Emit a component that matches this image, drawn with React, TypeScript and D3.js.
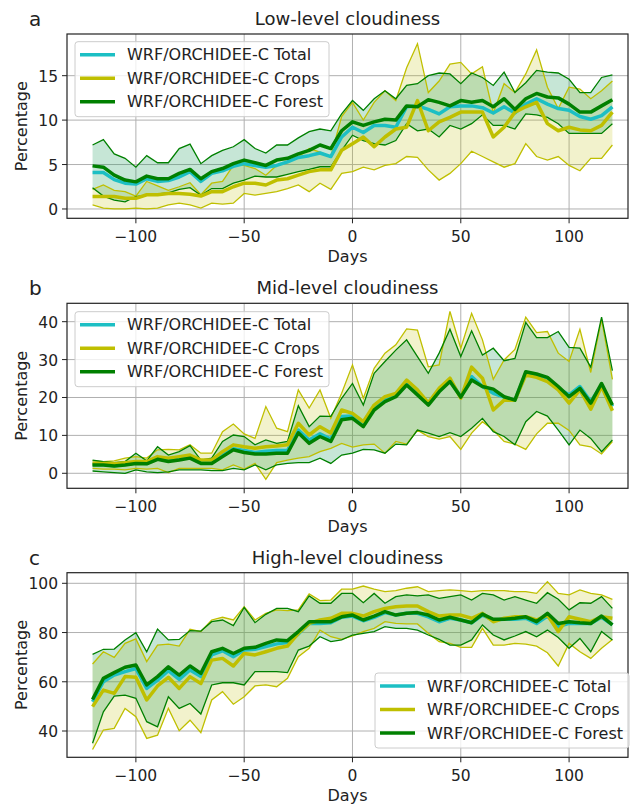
import React from 'react'
import * as d3 from 'd3'

// days relative to deforestation
const days = [
  -120, -115, -110, -105, -100, -95, -90, -85, -80, -75, -70, -65, -60, -55, -50, -45, -40, -35, -30, -25, -20, -15, -10, -5,
  0, 5, 10, 15, 20, 25, 30, 35, 40, 45, 50, 55, 60, 65, 70, 75, 80, 85, 90, 95, 100, 105, 110, 115, 120
]

// ---- low-level cloudiness ----
const lowTotal = [4.1, 4.1, 3.3, 2.9, 2.8, 3.4, 3.1, 3.2, 3.6, 4.2, 3.1, 4.0, 4.3, 4.8, 5.1, 4.9, 4.7, 4.9, 5.3, 5.8, 6.0, 6.3, 5.9, 8.1,
  9.2, 8.6, 9.4, 9.4, 9.2, 11.5, 11.6, 11.2, 10.7, 11.5, 11.6, 11.6, 11.4, 10.8, 11.5, 10.8, 11.8, 12.4, 11.8, 11.3, 11.1, 10.4, 10.1, 10.5, 11.5]
const lowCropsMean = [1.4, 1.4, 1.4, 1.2, 1.2, 1.6, 1.6, 1.75, 1.75, 1.65, 1.45, 1.95, 1.95, 2.5, 2.9, 2.9, 2.7, 3.25, 3.4, 3.8, 4.2, 4.4, 4.4, 6.6,
  7.35, 8.1, 7.0, 8.1, 9.0, 9.2, 12.2, 8.8, 9.8, 10.3, 10.9, 10.9, 10.9, 8.1, 9.2, 10.9, 11.5, 12.0, 9.6, 8.8, 9.2, 8.9, 8.8, 9.4, 10.9]
const lowCropsLow = [0.45, 0.1, 0, 0, 0.1, 0, 0.1, 0.45, 0.65, 0.45, 0.1, 0.65, 0.55, 0.65, 1.75, 1.55, 1.75, 1.95, 2.3, 2.7, 1.95, 2.9, 2.2, 4.0,
  4.2, 4.7, 4.4, 4.9, 5.1, 5.9, 5.8, 4.4, 3.25, 4.0, 5.1, 6.5, 5.9, 5.3, 4.7, 5.1, 7.35, 5.9, 5.5, 5.9, 4.9, 4.3, 5.7, 5.7, 7.2]
const lowCropsHigh = [2.2, 2.7, 2.1, 1.95, 1.45, 3.1, 2.6, 2.1, 2.5, 2.95, 1.6, 2.9, 3.1, 4.9, 4.9, 4.55, 3.8, 4.9, 5.2, 5.85, 6.8, 6.4, 5.9, 10.4,
  12.0, 10.0, 12.0, 13.3, 12.2, 15.9, 18.6, 13.1, 14.4, 16.3, 16.5, 15.2, 16.0, 10.8, 14.1, 13.1, 15.2, 17.9, 13.7, 11.3, 13.7, 13.5, 12.4, 13.3, 14.4]
const lowForestMean = [4.85, 4.7, 3.8, 3.25, 3.05, 3.7, 3.4, 3.4, 4.0, 4.45, 3.4, 4.2, 4.55, 5.1, 5.5, 5.2, 4.9, 5.5, 5.7, 6.2, 6.6, 7.2, 6.8, 8.8,
  9.8, 9.4, 9.8, 10.1, 10.0, 11.6, 11.5, 12.3, 12.0, 11.6, 12.2, 12.0, 12.2, 11.5, 12.4, 11.2, 12.4, 13.0, 12.6, 12.5, 11.8, 10.9, 10.9, 11.6, 12.3]
const lowForestLow = [2.4, 1.45, 1.0, 0.8, 1.4, 1.55, 1.7, 1.8, 2.2, 2.4, 1.55, 2.3, 2.3, 2.9, 3.25, 3.7, 3.6, 3.6, 3.9, 4.2, 4.45, 4.75, 4.75, 6.6,
  8.3, 7.7, 7.35, 7.2, 7.7, 9.6, 8.8, 9.0, 8.1, 9.4, 9.0, 9.6, 10.6, 9.4, 9.4, 9.0, 10.7, 10.6, 10.3, 9.6, 8.5, 8.5, 8.5, 8.5, 9.6]
const lowForestHigh = [7.2, 7.8, 6.2, 5.7, 4.7, 6.0, 5.2, 5.2, 6.8, 7.3, 5.1, 6.0, 6.6, 7.0, 7.8, 6.8, 6.3, 7.2, 7.2, 8.0, 8.7, 9.0, 8.8, 10.7,
  12.2, 11.1, 12.4, 13.3, 12.4, 13.9, 14.1, 15.0, 15.3, 15.2, 14.1, 15.3, 14.8, 13.9, 15.4, 13.1, 14.2, 15.6, 15.4, 15.3, 14.6, 13.1, 13.1, 14.8, 15.1]

// ---- mid-level cloudiness ----
const midTotal = [2.3, 2.3, 2.0, 2.3, 2.8, 2.6, 4.0, 3.3, 3.8, 4.2, 2.8, 2.8, 4.8, 6.5, 6.0, 5.5, 5.8, 6.0, 6.0, 11.4, 8.8, 10.4, 9.0, 15.0,
  15.1, 12.8, 17.2, 19.3, 20.7, 23.9, 21.1, 18.5, 22.0, 24.5, 20.2, 25.5, 22.9, 21.1, 20.1, 19.3, 26.4, 25.9, 25.1, 22.4, 20.7, 22.9, 18.9, 23.3, 17.6]
const midCropsMean = [2.5, 2.6, 2.5, 2.8, 3.1, 3.1, 4.4, 4.0, 4.4, 4.8, 3.5, 3.5, 5.7, 7.5, 7.0, 6.6, 7.0, 7.2, 7.5, 13.2, 10.1, 12.3, 10.6, 16.7,
  15.8, 13.6, 18.0, 20.2, 21.1, 24.6, 22.0, 18.6, 22.4, 25.1, 19.8, 28.0, 25.1, 16.7, 19.3, 19.3, 25.9, 25.3, 24.2, 22.0, 18.5, 22.0, 16.9, 22.9, 16.5]
const midCropsLow = [1.3, 1.1, 1.1, 0.9, 1.3, 1.1, 1.3, 0.2, 1.3, 1.3, 1.3, 1.3, 0.9, 2.2, 1.1, 2.6, -1.6, 2.8, 3.5, 4.0, 4.4, 5.7, 6.6, 7.9,
  6.9, 7.5, 7.7, 5.3, 8.4, 7.7, 11.4, 9.7, 9.0, 9.7, 6.3, 10.6, 13.6, 11.4, 8.4, 7.7, 6.3, 10.4, 13.2, 13.2, 11.3, 7.5, 7.0, 5.1, 8.4]
const midCropsHigh = [3.3, 3.1, 3.3, 4.0, 4.4, 4.0, 6.2, 6.3, 6.2, 7.5, 5.3, 5.3, 11.0, 13.0, 10.4, 9.2, 17.6, 11.9, 11.0, 22.0, 17.2, 22.0, 14.5, 21.1,
  28.6, 19.8, 27.7, 31.7, 33.9, 38.1, 37.8, 28.1, 28.6, 42.7, 33.0, 42.2, 35.2, 24.8, 29.9, 32.7, 41.2, 37.1, 37.4, 31.7, 29.5, 38.0, 26.6, 40.6, 24.8]
const midForestMean = [2.2, 2.2, 1.9, 2.2, 2.6, 2.5, 3.7, 3.1, 3.5, 4.0, 2.6, 2.6, 4.4, 6.2, 5.5, 5.1, 5.1, 5.3, 5.3, 10.7, 7.9, 9.7, 8.4, 14.1,
  14.5, 12.3, 16.7, 18.9, 20.2, 23.3, 20.7, 18.0, 21.5, 24.2, 20.1, 24.6, 22.9, 22.2, 20.2, 19.3, 26.8, 26.2, 25.3, 22.9, 20.2, 22.4, 18.5, 23.7, 18.0]
const midForestLow = [0.6, 0.4, 0.2, 0, 0.9, 0.4, 0.2, 0.4, 0.9, 0.9, 0.9, 0.7, 0.7, 1.3, 0.9, 2.2, 0.9, 2.2, 2.6, 2.8, 2.8, 4.0, 2.6, 4.8,
  5.3, 6.3, 6.2, 5.3, 7.7, 7.5, 11.4, 10.6, 9.7, 10.7, 9.7, 11.9, 14.5, 11.0, 9.7, 7.5, 13.6, 16.3, 15.1, 11.4, 7.5, 11.4, 9.2, 5.7, 8.8]
const midForestHigh = [3.5, 3.1, 2.8, 3.1, 5.3, 3.3, 7.0, 4.8, 5.7, 7.3, 3.5, 4.0, 8.4, 10.1, 9.7, 7.5, 8.8, 7.9, 8.4, 17.8, 12.3, 15.1, 15.0, 19.8,
  23.7, 18.0, 26.4, 29.5, 32.5, 35.2, 30.8, 26.4, 31.7, 38.0, 30.8, 37.6, 31.2, 33.0, 29.7, 30.3, 39.8, 35.8, 35.8, 37.4, 33.2, 33.0, 28.0, 41.2, 27.1]

// ---- high-level cloudiness ----
const highTotal = [51.9, 60.0, 62.7, 64.1, 65.4, 57.3, 60.7, 64.5, 61.0, 64.8, 62.1, 70.9, 72.6, 70.2, 72.9, 73.2, 74.3, 75.4, 75.9, 79.4, 83.7, 83.7, 84.0, 86.2,
  86.7, 84.8, 86.2, 88.1, 87.1, 87.8, 87.8, 86.4, 84.4, 85.8, 85.1, 84.0, 87.1, 85.1, 85.4, 85.4, 85.8, 83.7, 86.7, 82.4, 83.7, 83.7, 83.7, 86.2, 83.1]
const highCropsMean = [49.9, 56.6, 55.3, 62.1, 61.8, 52.6, 58.3, 61.8, 57.3, 62.1, 59.3, 68.8, 69.5, 66.4, 71.5, 70.9, 72.2, 73.6, 74.5, 79.7, 83.7, 85.1, 85.8, 87.8,
  87.8, 86.7, 88.5, 89.8, 90.5, 90.8, 90.8, 88.5, 86.7, 87.1, 87.1, 85.8, 87.8, 84.4, 85.8, 86.4, 86.4, 85.1, 87.1, 80.4, 86.4, 85.4, 84.4, 86.4, 85.8]
const highCropsLow = [32.5, 40.4, 41.1, 49.2, 45.8, 37.0, 38.3, 49.2, 40.1, 44.4, 39.3, 52.6, 56.0, 50.9, 53.9, 58.3, 58.7, 58.0, 61.4, 70.2, 73.6, 81.0, 78.3, 77.2,
  78.6, 80.4, 81.7, 84.4, 83.7, 83.5, 83.5, 79.7, 76.3, 75.6, 74.0, 74.0, 81.7, 74.9, 74.9, 75.6, 75.3, 74.5, 71.8, 66.4, 75.6, 72.2, 69.5, 73.6, 77.2]
const highCropsHigh = [67.2, 72.2, 69.9, 75.6, 77.4, 68.2, 74.9, 75.3, 74.5, 81.3, 80.4, 85.1, 86.2, 85.1, 90.5, 85.1, 87.8, 89.2, 88.9, 89.2, 95.7, 93.0, 93.2, 97.6,
  97.6, 98.9, 97.6, 96.6, 97.0, 98.0, 98.6, 96.6, 97.0, 97.3, 97.0, 96.6, 97.0, 97.0, 97.0, 96.6, 96.6, 95.9, 100.7, 95.9, 95.3, 97.3, 95.9, 95.3, 93.5]
const highForestMean = [52.8, 61.4, 63.7, 65.9, 66.8, 58.7, 62.1, 66.1, 62.7, 66.4, 63.4, 72.2, 73.6, 71.5, 73.6, 74.0, 75.6, 77.0, 76.7, 80.4, 84.4, 84.4, 84.4, 86.4,
  87.1, 85.1, 86.7, 88.5, 87.1, 87.8, 88.1, 87.1, 85.1, 86.2, 85.1, 84.0, 87.5, 85.4, 85.4, 85.8, 86.4, 84.4, 87.8, 83.7, 84.4, 84.0, 83.7, 86.7, 83.1]
const highForestLow = [35.0, 47.8, 54.2, 54.6, 53.3, 43.8, 41.7, 53.9, 49.2, 51.2, 46.9, 58.7, 59.6, 59.6, 58.7, 64.1, 64.1, 64.1, 63.7, 72.9, 74.5, 78.3, 76.3, 77.0,
  79.0, 79.7, 80.4, 82.4, 81.7, 81.7, 81.0, 79.0, 77.2, 74.9, 74.9, 77.0, 83.1, 79.0, 77.0, 78.6, 80.4, 78.3, 81.0, 78.0, 73.6, 77.6, 72.2, 80.4, 77.0]
const highForestHigh = [71.1, 73.2, 73.3, 77.0, 79.9, 72.2, 81.4, 77.0, 77.2, 80.8, 80.6, 84.4, 85.1, 82.8, 90.2, 84.0, 87.4, 89.8, 89.8, 88.5, 94.9, 91.9, 91.9, 95.9,
  95.9, 92.1, 95.9, 91.9, 94.6, 95.3, 94.9, 95.3, 93.9, 94.6, 95.3, 93.2, 95.9, 95.3, 93.2, 94.6, 93.2, 91.9, 96.2, 93.5, 89.2, 92.1, 91.9, 94.6, 89.8]

const xTicks = [-100, -50, 0, 50, 100]
const legendLabels = ['WRF/ORCHIDEE-C Total', 'WRF/ORCHIDEE-C Crops', 'WRF/ORCHIDEE-C Forest']

const C_TOTAL = '#1cbfc4'
const C_CROPS = '#bfbf00'
const C_FOREST = '#008000'
const FONT = '"DejaVu Sans", sans-serif'

const panels = [
  {
    id: 'a', title: 'Low-level cloudiness', top: 34, bottom: 218.3, yDomain: [-1.05, 19.69], yTicks: [0, 5, 10, 15],
    legendX: 75, legendY: 41.7,
    total: lowTotal, crops: [lowCropsMean, lowCropsLow, lowCropsHigh], forest: [lowForestMean, lowForestLow, lowForestHigh]
  },
  {
    id: 'b', title: 'Mid-level cloudiness', top: 303.3, bottom: 488.3, yDomain: [-3.96, 44.85], yTicks: [0, 10, 20, 30, 40],
    legendX: 75, legendY: 311.7,
    total: midTotal, crops: [midCropsMean, midCropsLow, midCropsHigh], forest: [midForestMean, midForestLow, midForestHigh]
  },
  {
    id: 'c', title: 'High-level cloudiness', top: 572.7, bottom: 757.3, yDomain: [29.32, 104.31], yTicks: [40, 60, 80, 100],
    legendX: 375, legendY: 673,
    total: highTotal, crops: [highCropsMean, highCropsLow, highCropsHigh], forest: [highForestMean, highForestLow, highForestHigh]
  }
]

const X0 = 67
const X1 = 628

function Panel({ p }: { p: any }) {
  const x = d3.scaleLinear().domain([-131.8, 127.2]).range([X0, X1])
  const y = d3.scaleLinear().domain(p.yDomain).range([p.bottom, p.top])
  const line = d3.line<number>().x((_, i) => x(days[i])).y(d => y(d))
  const band = (lo: number[], hi: number[]) =>
    d3.area<number>().x((_, i) => x(days[i])).y0(d => y(d)).y1((_, i) => y(hi[i]))(lo) || ''
  const clipId = `clip-${p.id}`
  const midX = (X0 + X1) / 2
  const legendColors = [C_TOTAL, C_CROPS, C_FOREST]

  return (
    <g>
      <defs>
        <clipPath id={clipId}>
          <rect x={X0} y={p.top} width={X1 - X0} height={p.bottom - p.top} />
        </clipPath>
      </defs>
      {/* grid */}
      {xTicks.map(t => (
        <line key={'gx' + t} x1={x(t)} x2={x(t)} y1={p.top} y2={p.bottom} stroke="#b0b0b0" strokeWidth={1} />
      ))}
      {p.yTicks.map((t: number) => (
        <line key={'gy' + t} x1={X0} x2={X1} y1={y(t)} y2={y(t)} stroke="#b0b0b0" strokeWidth={1} />
      ))}
      <g clipPath={`url(#${clipId})`}>
        <path d={band(p.crops[1], p.crops[2])} fill={C_CROPS} fillOpacity={0.2} />
        <path d={band(p.forest[1], p.forest[2])} fill="#1a9a5a" fillOpacity={0.25} />
        <path d={line(p.crops[1]) || ''} fill="none" stroke={C_CROPS} strokeWidth={1.3} />
        <path d={line(p.crops[2]) || ''} fill="none" stroke={C_CROPS} strokeWidth={1.3} />
        <path d={line(p.forest[1]) || ''} fill="none" stroke={C_FOREST} strokeWidth={1.3} />
        <path d={line(p.forest[2]) || ''} fill="none" stroke={C_FOREST} strokeWidth={1.3} />
        <path d={line(p.total) || ''} fill="none" stroke={C_TOTAL} strokeWidth={3.5} strokeLinejoin="round" />
        <path d={line(p.crops[0]) || ''} fill="none" stroke={C_CROPS} strokeWidth={3.5} strokeLinejoin="round" />
        <path d={line(p.forest[0]) || ''} fill="none" stroke={C_FOREST} strokeWidth={3.5} strokeLinejoin="round" />
      </g>
      {/* frame */}
      <rect x={X0} y={p.top} width={X1 - X0} height={p.bottom - p.top} fill="none" stroke="#222" strokeWidth={1.2} />
      {/* x ticks */}
      {xTicks.map(t => (
        <g key={'xt' + t}>
          <line x1={x(t)} x2={x(t)} y1={p.bottom} y2={p.bottom + 5} stroke="#222" strokeWidth={1} />
          <text x={x(t)} y={p.bottom + 23.5} textAnchor="middle" fontSize={15.5} fontFamily={FONT} fill="#222">
            {t < 0 ? '\u2212' + Math.abs(t) : String(t)}
          </text>
        </g>
      ))}
      <text x={midX} y={p.bottom + 44} textAnchor="middle" fontSize={16} fontFamily={FONT} fill="#222">Days</text>
      {/* y ticks */}
      {p.yTicks.map((t: number) => (
        <g key={'yt' + t}>
          <line x1={X0 - 5} x2={X0} y1={y(t)} y2={y(t)} stroke="#222" strokeWidth={1} />
          <text x={X0 - 9} y={y(t) + 6} textAnchor="end" fontSize={15.5} fontFamily={FONT} fill="#222">{t}</text>
        </g>
      ))}
      <text transform={`translate(27,${(p.top + p.bottom) / 2}) rotate(-90)`} textAnchor="middle" fontSize={16} fontFamily={FONT} fill="#222">
        Percentage
      </text>
      {/* title + letter */}
      <text x={midX} y={p.top - 9} textAnchor="middle" fontSize={18} fontFamily={FONT} fill="#222">{p.title}</text>
      <text x={29} y={p.top - 8} fontSize={20} fontFamily={FONT} fill="#222">{p.id}</text>
      {/* legend */}
      <g transform={`translate(${p.legendX},${p.legendY})`}>
        <rect x={0} y={0} width={254} height={75} rx={3} fill="#fff" fillOpacity={0.8} stroke="#ccc" strokeWidth={1} />
        {legendLabels.map((lab, i) => {
          const cy = 13 + i * 23.5
          return (
            <g key={lab}>
              <line x1={5} x2={40} y1={cy} y2={cy} stroke={legendColors[i]} strokeWidth={3.5} />
              <text x={52} y={cy + 5.8} fontSize={16} fontFamily={FONT} fill="#222">{lab}</text>
            </g>
          )
        })}
      </g>
    </g>
  )
}

export default function App() {
  return (
    <svg width={632} height={807} style={{ position: 'absolute', left: 0, top: 0, background: '#fff' }}>
      <rect width={632} height={807} fill="#fff" />
      {panels.map(p => <Panel key={p.id} p={p} />)}
    </svg>
  )
}
